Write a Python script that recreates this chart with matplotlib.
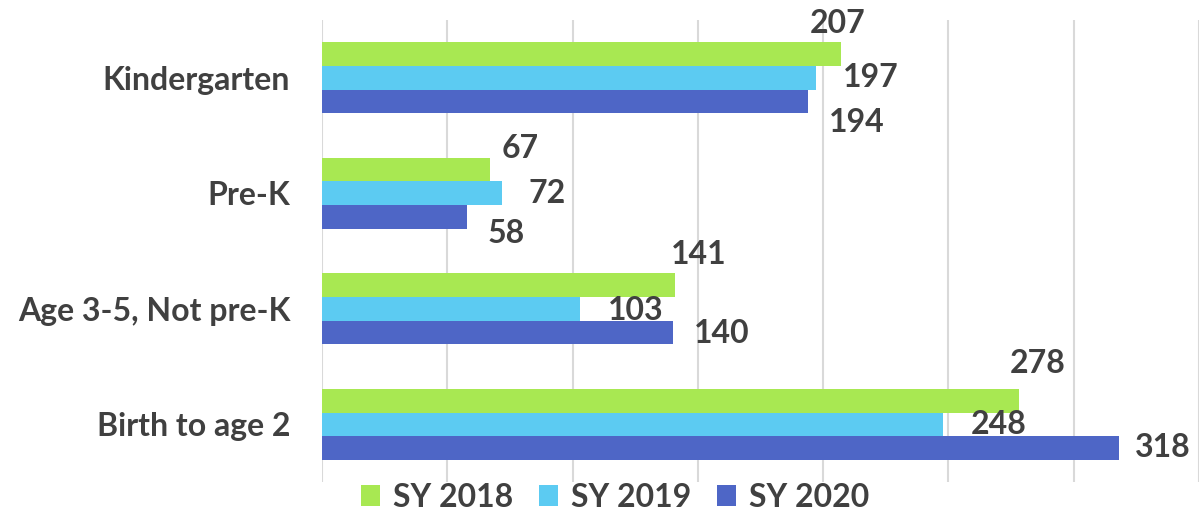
import numpy as np
from matplotlib import pyplot as plt

categories = ["Kindergarten", "Pre-K", "Age 3-5, Not pre-K", "Birth to age 2"]
series_names = ["SY 2018", "SY 2019", "SY 2020"]
sy2018 = [207, 67, 141, 278]
sy2019 = [197, 72, 103, 248]
sy2020 = [194, 58, 140, 318]

colors = ["#A8E852", "#5CCBF2", "#4E66C6"]
# hand-placed label offsets (points), like the dragged labels in the original
label_offsets = [
    [(-2, 22), (40, 0), (35, -15)],
    [(22, 15), (32, 0), (28, -12)],
    [(17, 22), (40, -1), (35, -1)],
    [(14, 27), (40, 0), (32, 0)],
]

plt.rcParams['font.family'] = ['Lato', 'DejaVu Sans']
text_color = "#404040"
fs = 23

fig = plt.figure(figsize=(11.99, 5.2), dpi=100)
ax = fig.add_axes([0.2686, 0.073, 0.7314, 0.8885])

y = np.arange(len(categories))
h = 0.204
for i, (vals, name) in enumerate(zip([sy2018, sy2019, sy2020], series_names)):
    pos = y + (i - 1) * h
    ax.barh(pos, vals, height=h, color=colors[i], label=name, zorder=3)
    for j, v in enumerate(vals):
        ax.annotate(str(v), (v, pos[j]), xytext=label_offsets[j][i],
                    textcoords='offset points', ha='center', va='center',
                    fontsize=fs, fontweight='bold', color=text_color, zorder=4)

ax.set_xlim(0, 350)
ax.set_ylim(3.5, -0.5)
ax.xaxis.set_major_locator(plt.MultipleLocator(50))
ax.grid(which='major', axis='x', color='#D9D9D9', linewidth=1.5, zorder=0)
ax.tick_params(axis='x', length=0, labelbottom=False)
ax.tick_params(axis='y', length=0, pad=23)
ax.set_yticks(y)
ax.set_yticklabels(categories, fontsize=fs, fontweight='bold', color=text_color)
for s in ax.spines.values():
    s.set_visible(False)

fig.legend(loc='center', bbox_to_anchor=(0.513, 0.044), ncol=3, frameon=False,
           prop={'size': fs, 'weight': 'bold'}, handlelength=0.6, handleheight=0.6,
           handletextpad=0.4, columnspacing=0.8, labelcolor=text_color)

fig.savefig("out.png", dpi=100)
